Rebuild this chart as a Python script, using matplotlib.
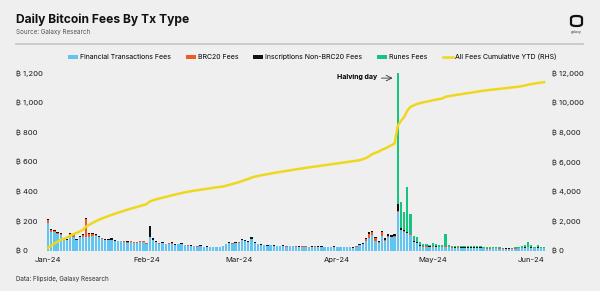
import numpy as np
import pandas as pd
import matplotlib.pyplot as plt
import matplotlib.dates as mdates
import matplotlib.ticker as mticker
from matplotlib.patches import FancyBboxPatch

plt.rcParams['font.family'] = ['Inter', 'DejaVu Sans']

# daily fees in BTC, Jan 1 - Jun 5 2024
dates = pd.date_range('2024-01-01', '2024-06-05')

financial = [
    # Jan
    187, 129, 126, 116, 108, 77, 73, 95, 97, 74, 92, 93, 96, 96, 100, 101,
    92, 82, 75, 73, 74, 67, 64, 66, 61, 57, 58, 52, 53, 58, 63,
    # Feb
    48, 93, 72, 59, 50, 52, 45, 50, 50, 41, 45, 46, 38, 36, 34, 31, 30, 31,
    27, 29, 25, 27, 24, 25, 31, 45, 52, 49, 53,
    # Mar
    56, 72, 68, 59, 80, 53, 44, 41, 37, 35, 37, 35, 33, 32, 33, 30, 31, 31,
    30, 29, 30, 30, 27, 27, 29, 27, 27, 26, 26, 24, 27,
    # Apr
    27, 25, 24, 25, 27, 22, 30, 37, 44, 64, 90, 105, 69, 54, 100, 69, 96, 91,
    96, 265, 140, 130, 120, 110, 60, 55, 35, 30, 30, 28,
    # May
    30, 28, 26, 25, 30, 24, 23, 22, 23, 22, 22, 21, 22, 22, 22, 21, 17, 16,
    16, 18, 17, 16, 16, 15, 15, 16, 16, 18, 20, 22, 25,
    # Jun
    22, 19, 22, 19, 17,
]

brc20 = [
    22, 10, 8, 6, 4, 2, 2, 22, 10, 3, 4, 14, 118, 18, 14, 6,
    4, 3, 2, 2, 3, 2, 2, 2, 3, 6, 8, 6, 7, 6, 4,
    4, 2, 3, 2, 2, 2, 2, 2, 2, 1, 2, 2, 1, 1, 1, 1, 1, 1,
    1, 1, 1, 1, 1, 1, 1, 2, 2, 2, 2,
    2, 2, 2, 2, 2, 1, 1, 1, 1, 1, 2, 1, 1, 1, 2, 1, 1, 2,
    1, 1, 2, 1, 1, 2, 2, 2, 3, 2, 2, 2, 2,
    1, 1, 1, 1, 1, 1, 2, 4, 6, 15, 25, 20, 18, 5, 25, 6, 5, 5,
    5, 2, 2, 2, 2, 2, 1, 1, 1, 1, 1, 1,
] + [1] * 36

inscriptions = [
    6, 6, 6, 6, 6, 3, 3, 5, 5, 3, 4, 5, 8, 6, 4, 8,
    4, 3, 3, 3, 8, 3, 2, 2, 2, 2, 2, 2, 2, 2, 3,
    3, 75, 10, 4, 3, 6, 3, 3, 8, 3, 3, 7, 3, 3, 3, 3, 2, 6,
    2, 2, 2, 2, 2, 2, 3, 3, 8, 4, 5,
    4, 6, 5, 4, 10, 4, 3, 3, 2, 2, 3, 2, 2, 2, 3, 2, 2, 3,
    2, 2, 3, 2, 2, 2, 2, 2, 2, 2, 2, 2, 2,
    2, 2, 2, 2, 2, 2, 3, 4, 5, 6, 10, 12, 8, 6, 10, 10, 12, 10,
    12, 50, 15, 8, 6, 5, 3, 3, 2, 2, 2, 2,
] + [2] * 36

runes = [0] * 110 + [
    # Apr 20 - 30
    883, 173, 120, 302, 133, 36, 36, 22, 17, 12, 9,
    # May
    21, 14, 11, 10, 82, 11, 10, 10, 10, 9, 10, 9, 10, 9, 11, 9, 7, 6,
    5, 8, 6, 5, 4, 4, 3, 4, 5, 8, 11, 15, 34,
    # Jun
    15, 8, 15, 8, 5,
]

labels = ['Financial Transactions Fees', 'BRC20 Fees',
          'Inscriptions Non-BRC20 Fees', 'Runes Fees',
          'All Fees Cumulative YTD (RHS)']

BG = '#efefef'
colors = ['#62c5f1', '#ef5a24', '#111111', '#17c47f']
YELLOW = '#eed81e'

series = [np.array(s, dtype=float) for s in (financial, brc20, inscriptions, runes)]
total = sum(series)
cumulative = np.cumsum(total)

fig = plt.figure(figsize=(6, 2.91), dpi=100, facecolor=BG)
ax = fig.add_axes([0.0747, 0.1375, 0.840, 0.6426])
ax.set_facecolor(BG)

handles = []
bottom = np.zeros(len(dates))
for s, c, lab in zip(series, colors, labels):
    h = ax.bar(dates, s, bottom=bottom, width=0.72, color=c, linewidth=0, label=lab)
    handles.append(h)
    bottom += s

ax2 = ax.twinx()
line, = ax2.plot(dates, cumulative, color=YELLOW, lw=1.8, label=labels[-1])
handles.append(line)

ax.set_xlim(pd.Timestamp('2023-12-31'), pd.Timestamp('2024-06-06 12:00'))
ax.set_ylim(0, 1260)
ax2.set_ylim(0, 12600)
ax.set_yticks(range(0, 1201, 200))
ax2.set_yticks(range(0, 12001, 2000))
ax.yaxis.set_major_formatter(mticker.FuncFormatter(lambda v, p: f'\u20bf {v:,.0f}'))
ax2.yaxis.set_major_formatter(mticker.FuncFormatter(lambda v, p: f'\u20bf {v:,.0f}'))
ax.xaxis.set_major_locator(mdates.MonthLocator())
ax.xaxis.set_major_formatter(mdates.DateFormatter('%b-%y'))

for a in (ax, ax2):
    for sp in a.spines.values():
        sp.set_visible(False)
ax.tick_params(axis='y', length=0, labelsize=5.5, pad=21, colors='#1a1a1a')
ax2.tick_params(axis='y', length=0, labelsize=5.5, pad=2.5, colors='#1a1a1a')
ax.tick_params(axis='x', length=0, labelsize=5.5, pad=4, colors='#1a1a1a')
plt.setp(ax.get_yticklabels(), ha='left')

# halving annotation
ax.text(pd.Timestamp('2024-04-13 12:00'), 1175, 'Halving day', fontsize=5,
        weight='bold', ha='right', va='center')
ax.annotate('', xy=(pd.Timestamp('2024-04-19 06:00'), 1165),
            xytext=(pd.Timestamp('2024-04-14 00:00'), 1165),
            arrowprops=dict(arrowstyle='->', lw=0.6, color='#333333'))

# header
fig.text(16 / 600, 1 - 20 / 291, 'Daily Bitcoin Fees By Tx Type', fontsize=8.7,
         weight='bold', va='center', color='#111111')
fig.text(16 / 600, 1 - 32 / 291, 'Source: Galaxy Research', fontsize=4.5,
         va='center', color='#555555')
fig.add_artist(plt.Line2D([16 / 600, 583 / 600], [1 - 44 / 291] * 2,
                          color='#c6c6c6', lw=1.2))
logo = FancyBboxPatch((571 / 600, 1 - 26 / 291), 11 / 600, 10 / 291,
                      boxstyle='round,pad=0,rounding_size=0.008',
                      transform=fig.transFigure, fill=False, ec='#111111', lw=1.6)
fig.add_artist(logo)
fig.text(576.5 / 600, 1 - 32 / 291, 'galaxy', fontsize=2.5, ha='center',
         va='center', color='#333333')

fig.legend(handles=handles, labels=labels, loc='center', ncol=5,
           bbox_to_anchor=(0.52, 1 - 57 / 291), frameon=False, fontsize=5,
           handlelength=1.4, handleheight=0.6, handletextpad=0.3,
           columnspacing=2.2)

fig.text(16 / 600, 1 - 279 / 291, 'Data: Flipside, Galaxy Research', fontsize=4.5,
         va='center', color='#333333')

fig.savefig('out.png', dpi=100, facecolor=BG)
